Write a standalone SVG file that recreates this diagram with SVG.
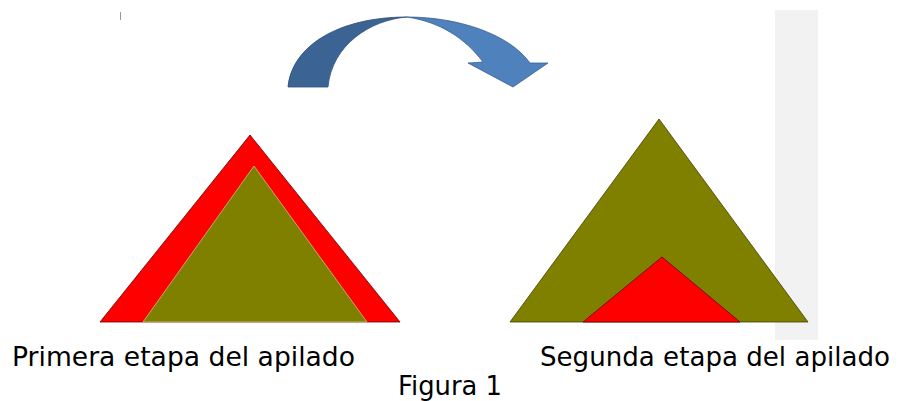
<svg xmlns="http://www.w3.org/2000/svg" width="899" height="401" viewBox="0 0 899 401">
<style>
.lbl{font-family:"DejaVu Sans","Verdana",sans-serif;font-size:26.5px;fill:#000}
.red{fill:#ff0000}
.olive{fill:#808000}
</style>
<rect x="0" y="0" width="899" height="401" fill="#ffffff"/>
<rect x="775" y="10" width="43" height="330" fill="#f2f2f2"/>
<line x1="120.5" y1="12" x2="120.5" y2="20" stroke="#999" stroke-width="1"/>
<g id="arrow">
<path d="M288,87 C292,45 340,17 407,17 C370,20 332,45 328,87 Z" fill="#3b6494" stroke="#2f4f78" stroke-width="0.8"/>
<path d="M407,17 C460,17 510,35 530,63 L548,63 L513,87 L468,63 L483,62 C465,38 440,22 407,17 Z" fill="#4f81bd" stroke="#3a5f8f" stroke-width="0.8"/>
</g>
<g id="stage1">
<polygon points="250,135 400,322 100,322" class="red" stroke="#600" stroke-width="0.8"/>
<polygon points="254,166 367,322 143,322" class="olive" stroke="#c0c080" stroke-width="0.8"/>
</g>
<g id="stage2">
<polygon points="659,119 808,322 510,322" class="olive" stroke="#404000" stroke-width="0.8"/>
<polygon points="662,257 740,322 583,322" class="red" stroke="#600" stroke-width="0.8"/>
</g>
<text class="lbl" x="12" y="366" textLength="343" lengthAdjust="spacingAndGlyphs">Primera etapa del apilado</text>
<text class="lbl" x="540" y="366" textLength="350" lengthAdjust="spacingAndGlyphs">Segunda etapa del apilado</text>
<text class="lbl" x="398" y="395" textLength="104" lengthAdjust="spacingAndGlyphs">Figura 1</text>
</svg>
